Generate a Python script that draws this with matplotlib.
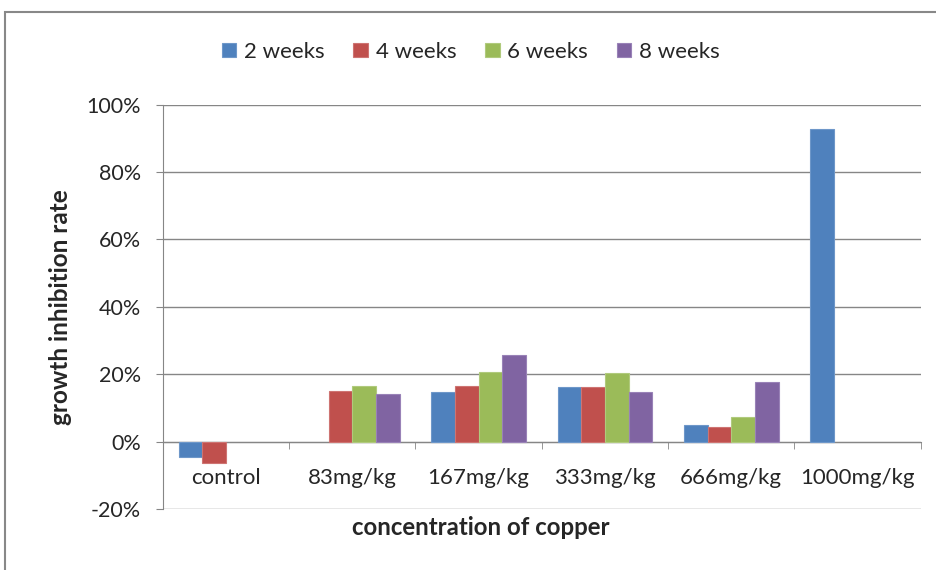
import numpy as np
import matplotlib.pyplot as plt
from matplotlib.patches import Rectangle
from matplotlib.ticker import FuncFormatter

plt.rcParams['font.family'] = ['Lato', 'DejaVu Sans']
txt = '#262626'
plt.rcParams['text.color'] = txt

categories = ['control', '83mg/kg', '167mg/kg', '333mg/kg', '666mg/kg', '1000mg/kg']
weeks = ['2 weeks', '4 weeks', '6 weeks', '8 weeks']
nan = np.nan
w2 = [-4.7, nan, 14.8, 16.3, 4.9, 92.8]
w4 = [-6.2, 15.1, 16.6, 16.3, 4.2, nan]
w6 = [nan, 16.6, 20.8, 20.5, 7.2, nan]
w8 = [nan, 14.0, 25.8, 14.8, 17.8, nan]
series = [w2, w4, w6, w8]
colors = ['#4F81BD', '#C0504D', '#9BBB59', '#8064A2']
edges = ['#6E97C9', '#CE7472', '#B0CA7D', '#9982B7']
gray = '#868686'

fig = plt.figure(figsize=(9.36, 5.70), dpi=100)
ax = fig.add_axes([0.174, 0.107, 0.8096, 0.7093])

x = np.arange(len(categories))
bw = 0.1875
for i, vals in enumerate(series):
    ax.bar(x + (i - 1.5) * bw, vals, bw, color=colors[i], edgecolor=edges[i],
           linewidth=0.8, label=weeks[i], zorder=3)

ax.set_xlim(-0.5, len(categories) - 0.5)
ax.set_ylim(-20, 100)
ax.set_yticks(np.arange(-20, 101, 20))
ax.yaxis.set_major_formatter(FuncFormatter(lambda v, p: f'{v:.0f}%'))
ax.grid(axis='y', color=gray, lw=1, zorder=0)
ax.set_axisbelow(True)

for sp in ('top', 'right'):
    ax.spines[sp].set_visible(False)
ax.spines['left'].set_color(gray)
ax.spines['bottom'].set_color(gray)
ax.spines['bottom'].set_position(('data', 0))

ax.set_xticks(x)
ax.set_xticklabels(categories)
ax.set_xticks(np.arange(-0.5, len(categories), 1), minor=True)
ax.tick_params(axis='x', which='major', length=0, pad=19, labelsize=16, labelcolor=txt)
ax.tick_params(axis='x', which='minor', length=5, color=gray, direction='out')
ax.tick_params(axis='y', length=5, color=gray, labelsize=15.5, pad=11, labelcolor=txt)

fig.text(0.065, 0.461, 'growth inhibition rate', rotation=90, ha='center', va='center',
         fontsize=17.5, fontweight='bold')
fig.text(0.514, 0.075, 'concentration of copper', ha='center', va='center',
         fontsize=17.3, fontweight='bold')

fig.legend(loc='center', bbox_to_anchor=(0.503, 0.909), ncol=4, frameon=False,
           fontsize=16, handlelength=0.65, handleheight=0.65, handletextpad=0.35,
           columnspacing=1.3)

fig.add_artist(Rectangle((5 / 936, -0.1), 1.2, 1 - 12 / 570 + 0.1, transform=fig.transFigure,
                         fill=False, edgecolor='#888888', lw=1.5))

fig.savefig('out.png', dpi=100)
